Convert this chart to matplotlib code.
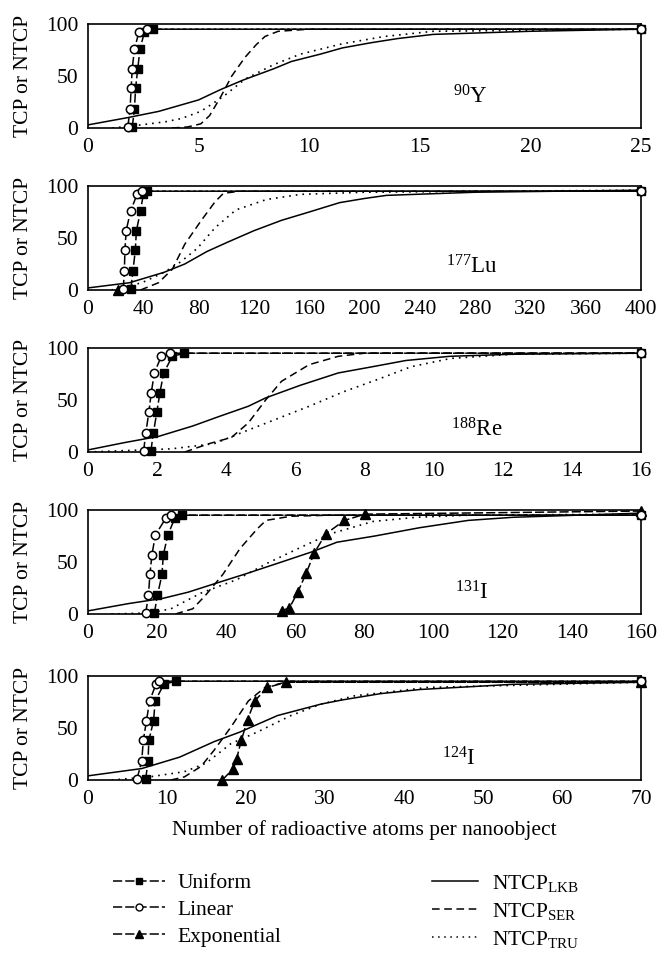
import matplotlib
matplotlib.use("Agg")
import matplotlib.pyplot as plt
from matplotlib.lines import Line2D

plt.rcParams['font.family'] = ['Liberation Serif', 'DejaVu Serif']
plt.rcParams['mathtext.fontset'] = 'custom'
plt.rcParams['mathtext.rm'] = 'Liberation Serif'
plt.rcParams['mathtext.it'] = 'Liberation Serif:italic'

# common TCP levels of the dose-response points
tcp_y = [1, 18, 38, 57, 76, 92, 95, 95]

# ---- 90Y ----
y90_xmax = 25
y90_uni_x = [2.0, 2.1, 2.15, 2.25, 2.35, 2.55, 2.95, 25]
y90_lin_x = [1.8, 1.9, 1.95, 2.0, 2.1, 2.3, 2.65, 25]
y90_exp_x, y90_exp_y = [], []
y90_lkb = ([0, 1.8, 3.2, 5.0, 6.0, 7.0, 8.4, 9.2, 10.5, 11.5, 12.8, 14, 15.6, 20, 25],
           [3, 10, 16, 27, 37, 46, 57, 64, 71, 77, 82, 86, 90, 93, 95])
y90_ser = ([3.8, 4.5, 5.1, 5.5, 6.0, 6.5, 7.1, 7.6, 8.0, 8.6, 10, 25],
           [0, 1, 4, 12, 30, 50, 68, 80, 88, 93, 95, 95])
y90_tru = ([1.1, 2.4, 3.5, 4.2, 5.1, 6.1, 7.1, 8.4, 9.6, 11.5, 13.4, 15.6, 25],
           [0, 3, 6, 9, 16, 30, 47, 61, 71, 81, 88, 93, 95])

# ---- 177Lu ----
lu_xmax = 400
lu_uni_x = [31, 32.5, 34.2, 35, 38, 40, 43, 400]
lu_lin_x = [25.5, 26.3, 26.7, 27.6, 30.8, 35.5, 39.4, 400]
lu_exp_x, lu_exp_y = [22], [0]
lu_lkb = ([0, 30, 55, 70, 86, 101, 120, 140, 160, 182, 200, 216, 280, 400],
          [2, 7, 17, 25, 37, 46, 57, 67, 75, 84, 88, 91, 94, 96])
lu_ser = ([38, 51, 61, 70, 82, 92, 98, 110, 400],
          [0, 7, 20, 44, 67, 85, 93, 95, 95])
lu_tru = ([17, 39, 55, 67, 79, 92, 107, 129, 154, 200, 400],
          [0, 7, 17, 27, 40, 60, 77, 87, 92, 94, 96])

# ---- 188Re ----
re_xmax = 16
re_uni_x = [1.82, 1.89, 1.99, 2.08, 2.19, 2.44, 2.79, 16]
re_lin_x = [1.61, 1.67, 1.76, 1.83, 1.92, 2.12, 2.38, 16]
re_exp_x, re_exp_y = [], []
re_lkb = ([0, 1.05, 2.04, 3.03, 3.78, 4.64, 5.14, 6.13, 7.24, 8.23, 9.2, 10.46, 12.3, 16],
          [2, 9, 15, 25, 34, 44, 52, 64, 76, 82, 88, 92, 94, 95])
re_ser = ([2.8, 3.5, 4.15, 4.64, 5.14, 5.6, 6.4, 7.24, 8.0, 16],
          [0, 8, 14, 28, 50, 68, 84, 92, 95, 95])
re_tru = ([0, 2.4, 3.65, 4.4, 5.4, 6.4, 7.4, 8.4, 9.35, 10.5, 12.3, 16],
          [0, 3, 8, 18, 31, 44, 58, 70, 82, 90, 94, 95])

# ---- 131I ----
i131_xmax = 160
i131_uni_x = [19.2, 20.1, 21.4, 21.8, 23.1, 25.1, 27.2, 160]
i131_lin_x = [16.7, 17.5, 17.9, 18.5, 19.5, 22.5, 24.0, 160]
i131_exp_x = [56, 58.3, 60.7, 63.1, 65.5, 68.8, 74.2, 80.1, 160]
i131_exp_y = [3, 6, 21, 39, 59, 77, 90, 96, 99]
i131_lkb = ([0, 11.7, 21.6, 29, 36.5, 46, 56, 65, 72, 83, 96, 110, 123, 160],
            [3, 10, 15, 21, 29, 39, 50, 60, 69, 75, 83, 90, 93, 97])
i131_ser = ([25.3, 30.3, 34, 39, 44, 49, 51.5, 58.7, 70, 160],
            [0, 5, 18, 38, 63, 82, 90, 94, 95, 95])
i131_tru = ([6.8, 17.9, 24, 32.6, 43, 52, 61.5, 70, 82.5, 95, 110, 160],
            [0, 1, 5, 20, 33, 49, 64, 77, 89, 93, 95, 96])

# ---- 124I ----
i124_xmax = 70
i124_uni_x = [7.3, 7.6, 7.7, 8.3, 8.5, 9.6, 11.1, 70]
i124_lin_x = [6.2, 6.8, 7.0, 7.4, 7.8, 8.6, 9.0, 70]
i124_exp_x = [17, 18.4, 18.8, 19.4, 20.2, 21.1, 22.7, 25.1, 70]
i124_exp_y = [0, 11, 20, 38, 58, 76, 89, 94, 94]
i124_lkb = ([0, 6.8, 11.6, 16, 19.2, 24, 29.5, 32.2, 37, 42, 53.8, 70],
            [4, 11, 22, 37, 46, 62, 73, 77, 83, 87, 92, 94])
i124_ser = ([10.5, 12.2, 14.3, 16, 18.1, 20.3, 22.4, 25, 70],
            [0, 3, 13, 29, 51, 76, 89, 94, 94])
i124_tru = ([3, 7.8, 12.2, 14.9, 18.1, 21.4, 25.7, 29.5, 33.8, 43, 70],
            [0, 3, 8, 16, 35, 46, 62, 73, 81, 89, 94])

panels = [
    (r'$\mathrm{^{90}Y}$', y90_xmax, 5, y90_uni_x, y90_lin_x, y90_exp_x, y90_exp_y, y90_lkb, y90_ser, y90_tru, 0.66, 0.19),
    (r'$\mathrm{^{177}Lu}$', lu_xmax, 40, lu_uni_x, lu_lin_x, lu_exp_x, lu_exp_y, lu_lkb, lu_ser, lu_tru, 0.648, 0.11),
    (r'$\mathrm{^{188}Re}$', re_xmax, 2, re_uni_x, re_lin_x, re_exp_x, re_exp_y, re_lkb, re_ser, re_tru, 0.657, 0.10),
    (r'$\mathrm{^{131}I}$', i131_xmax, 20, i131_uni_x, i131_lin_x, i131_exp_x, i131_exp_y, i131_lkb, i131_ser, i131_tru, 0.664, 0.09),
    (r'$\mathrm{^{124}I}$', i124_xmax, 10, i124_uni_x, i124_lin_x, i124_exp_x, i124_exp_y, i124_lkb, i124_ser, i124_tru, 0.64, 0.09),
]

W, H = 664, 961
bottoms_px = [128, 290, 452, 614, 780]
fig = plt.figure(figsize=(W / 100, H / 100), dpi=100)

tcp_ls = (0, (6, 2))
fs = 15.5

for (name, xmax, step, ux, lx, ex, ey, lkb, ser, tru, tx, ty), bpx in zip(panels, bottoms_px):
    ax = fig.add_axes([88 / W, 1 - bpx / H, 553 / W, 104 / H])
    ax.plot(lkb[0], lkb[1], '-', color='k', lw=1.1)
    ax.plot(ser[0], ser[1], color='k', lw=1.1, ls=(0, (5, 3)))
    ax.plot(tru[0], tru[1], color='k', lw=1.2, ls=(0, (1, 3)))
    ax.plot(ux, tcp_y, color='k', lw=1.1, ls=tcp_ls, marker='s', ms=6,
            mfc='k', mec='k', clip_on=False, zorder=4)
    ax.plot(lx, tcp_y, color='k', lw=1.1, ls=tcp_ls, marker='o', ms=6,
            mfc='white', mec='k', mew=1.1, clip_on=False, zorder=5)
    if ex:
        ax.plot(ex, ey, color='k', lw=1.1, ls=tcp_ls, marker='^', ms=6.5,
                mfc='k', mec='k', clip_on=False, zorder=4)
    ax.set_xlim(0, xmax)
    ax.set_ylim(0, 100)
    ax.set_xticks(range(0, xmax + 1, step))
    ax.set_yticks([0, 50, 100])
    ax.tick_params(length=0, labelsize=fs, pad=7)
    for s in ax.spines.values():
        s.set_linewidth(1.2)
    ax.set_ylabel('TCP or NTCP', fontsize=fs)
    ax.yaxis.set_label_coords(-0.1, 0.5)
    ax.text(tx, ty, name, transform=ax.transAxes, fontsize=16.5, va='bottom', ha='left')

fig.text(364 / W, 1 - 830 / H, 'Number of radioactive atoms per nanoobject',
         ha='center', va='center', fontsize=fs)

tcp_handles = [
    Line2D([], [], color='k', lw=1.1, ls=tcp_ls, marker='s', ms=5, mfc='k'),
    Line2D([], [], color='k', lw=1.1, ls=tcp_ls, marker='o', ms=5, mfc='white'),
    Line2D([], [], color='k', lw=1.1, ls=tcp_ls, marker='^', ms=5.5, mfc='k'),
]
ntcp_handles = [
    Line2D([], [], color='k', lw=1.1, ls='-'),
    Line2D([], [], color='k', lw=1.1, ls=(0, (5, 3))),
    Line2D([], [], color='k', lw=1.1, ls=(0, (1, 3))),
]
tcp_labels = ['Uniform', 'Linear', 'Exponential']
ntcp_labels = [r'NTCP$_{\mathrm{LKB}}$', r'NTCP$_{\mathrm{SER}}$', r'NTCP$_{\mathrm{TRU}}$']

leg1 = fig.legend(tcp_handles, tcp_labels, frameon=False, fontsize=fs,
                  loc='upper left', bbox_to_anchor=(113 / W, 1 - 873 / H),
                  borderpad=0, borderaxespad=0, handlelength=2.4,
                  labelspacing=0.32, handletextpad=0.6)
leg2 = fig.legend(ntcp_handles, ntcp_labels, frameon=False, fontsize=fs,
                  loc='upper left', bbox_to_anchor=(432 / W, 1 - 873 / H),
                  borderpad=0, borderaxespad=0, handlelength=2.15,
                  labelspacing=0.32, handletextpad=0.65)

fig.savefig('out.png', dpi=100)
